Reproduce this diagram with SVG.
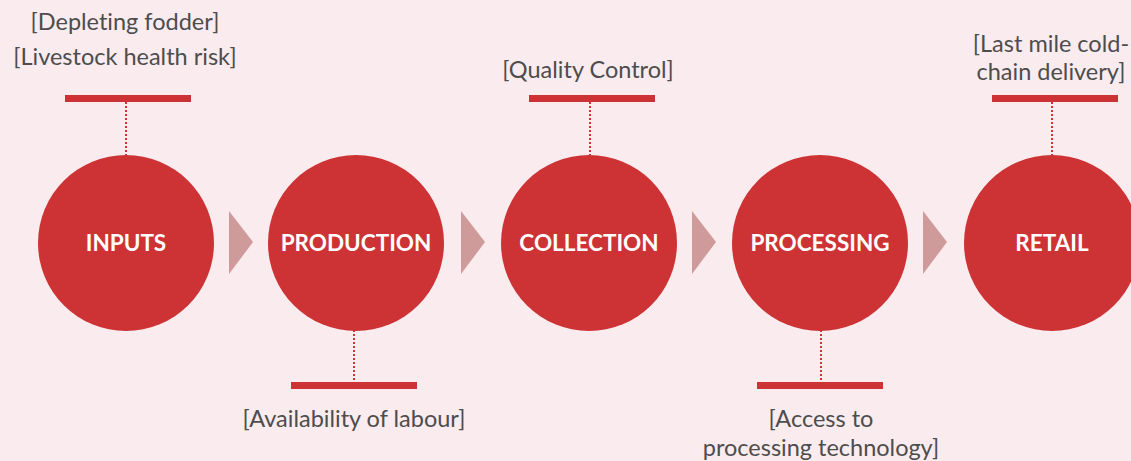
<svg xmlns="http://www.w3.org/2000/svg" width="1131" height="461" viewBox="0 0 1131 461">
<style>
.c{fill:#CD3334}
.lbl{font-family:Lato,"Open Sans",sans-serif;font-weight:bold;font-size:22.5px;fill:#fff;text-anchor:middle}
.note{font-family:Lato,"Open Sans",sans-serif;font-size:23.5px;fill:#4d4d4d;text-anchor:middle;font-variant-ligatures:none}
.bar{fill:#CD3334}
.dot{stroke:#CD3334;stroke-width:2;stroke-dasharray:2 2;fill:none}
.arr{fill:#CF9A9A}
</style>
<rect width="1131" height="461" fill="#FAEBEE"/>
<g id="connectors">
<polygon class="arr" points="229,211 253,242 229,274"/>
<polygon class="arr" points="461,211 485,242 461,274"/>
<polygon class="arr" points="692,211 716,242 692,274"/>
<polygon class="arr" points="923,211 947,242 923,274"/>
<line class="dot" x1="126" y1="102" x2="126" y2="156"/>
<line class="dot" x1="354" y1="330" x2="354" y2="382"/>
<line class="dot" x1="590" y1="102" x2="590" y2="156"/>
<line class="dot" x1="821" y1="330" x2="821" y2="382"/>
<line class="dot" x1="1052" y1="102" x2="1052" y2="156"/>
</g>
<g id="inputs">
<circle class="c" cx="126" cy="243" r="88"/>
<text class="lbl" x="126" y="251">INPUTS</text>
<rect class="bar" x="65" y="95" width="126" height="7"/>
<text class="note" x="125" y="30">[Depleting fodder]</text>
<text class="note" x="125" y="65">[Livestock health risk]</text>
</g>
<g id="production">
<circle class="c" cx="356" cy="243" r="88"/>
<text class="lbl" x="356" y="251">PRODUCTION</text>
<rect class="bar" x="291" y="382" width="126" height="7"/>
<text class="note" x="354" y="427">[Availability of labour]</text>
</g>
<g id="collection">
<circle class="c" cx="589" cy="243" r="88"/>
<text class="lbl" x="589" y="251">COLLECTION</text>
<rect class="bar" x="529" y="95" width="126" height="7"/>
<text class="note" x="588" y="78">[Quality Control]</text>
</g>
<g id="processing">
<circle class="c" cx="820" cy="243" r="88"/>
<text class="lbl" x="820" y="251">PROCESSING</text>
<rect class="bar" x="757" y="382" width="126" height="7"/>
<text class="note" x="821" y="427">[Access to</text>
<text class="note" x="821" y="456">processing technology]</text>
</g>
<g id="retail">
<circle class="c" cx="1052" cy="243" r="88"/>
<text class="lbl" x="1052" y="251">RETAIL</text>
<rect class="bar" x="992" y="95" width="126" height="7"/>
<text class="note" x="1051" y="52">[Last mile cold-</text>
<text class="note" x="1051" y="80">chain delivery]</text>
</g>
</svg>
